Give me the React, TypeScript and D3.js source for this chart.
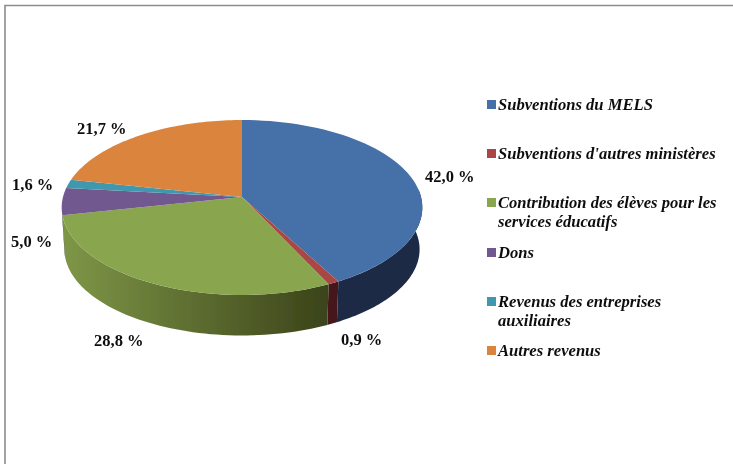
import React from 'react';
import * as d3 from 'd3';

const categories = [
  'Subventions du MELS',
  "Subventions d'autres ministères",
  'Contribution des élèves pour les services éducatifs',
  'Dons',
  'Revenus des entreprises auxiliaires',
  'Autres revenus',
];
const values = [42.0, 0.9, 28.8, 5.0, 1.6, 21.7];
const valueLabels = ['42,0 %', '0,9 %', '28,8 %', '5,0 %', '1,6 %', '21,7 %'];
const legendLines = [
  ['Subventions du MELS'],
  ["Subventions d'autres ministères"],
  ['Contribution des élèves pour les', 'services éducatifs'],
  ['Dons'],
  ['Revenus des entreprises', 'auxiliaires'],
  ['Autres revenus'],
];
const topColors = ['#4470a8', '#aa4644', '#89a54e', '#71588f', '#4198af', '#db843d'];
const wallLeft = ['#1b2e4a', '#4f1c1b', '#7f9747', '#000', '#000', '#000'];
const wallRight = ['#1a2b45', '#45191a', '#3a4219', '#000', '#000', '#000'];

const labelX = [425, 341, 94, 11, 12, 77];
const labelY = [182, 345, 346, 247, 190, 134];
const legendY = [110, 159, 208, 258, 307, 356];

// projected pie: apex is off the ellipse centre because of the perspective
const apexX = 242;
const apexY = 197;
const radX = 179;
const radY = 86.2;
const persp = 0.12;
const depth = 41;

const project = (a: number, bottom = false): [number, number] => {
  const u = Math.sin(a);
  const v = Math.cos(a);
  const k = 1 + persp * v;
  const shrink = bottom ? 0.985 : 1;
  return [
    apexX + (radX * shrink * u) / k,
    apexY - (radY * shrink * v) / k + (bottom ? depth + 1 : 0),
  ];
};

const sample = (a0: number, a1: number) => d3.range(0, 61).map((i) => a0 + ((a1 - a0) * i) / 60);

const wallFrom = (85 * Math.PI) / 180;
const wallTo = (262 * Math.PI) / 180;

export default function App() {
  const arcs = d3.pie<number>().sort(null)(values);
  const line = d3.line();

  const tops = arcs.map((d) => {
    const rim = sample(d.startAngle, d.endAngle).map((a) => project(a));
    return line([[apexX, apexY], ...rim]) + 'Z';
  });

  const walls = arcs.map((d) => {
    const a0 = Math.max(d.startAngle, wallFrom);
    const a1 = Math.min(d.endAngle, wallTo);
    if (a1 <= a0) return null;
    const up = sample(a0, a1).map((a) => project(a));
    const down = sample(a0, a1).map((a) => project(a, true)).reverse();
    return line([...up, ...down]) + 'Z';
  });

  return (
    <svg
      width={733}
      height={464}
      style={{ position: 'absolute', left: 0, top: 0, background: '#fff' }}
    >
      <defs>
        {categories.map((c, i) => (
          <linearGradient key={c} id={`wall${i}`} gradientUnits="userSpaceOnUse" x1={61} x2={422} y1={0} y2={0}>
            <stop offset="0" stopColor={wallLeft[i]} />
            <stop offset="0.75" stopColor={wallRight[i]} />
          </linearGradient>
        ))}
        <filter id="soft" x="-5%" y="-5%" width="110%" height="110%">
          <feGaussianBlur stdDeviation={0.4} />
        </filter>
      </defs>
      <path d="M5,464V5.5H733" fill="none" stroke="#8c8c8c" strokeWidth={1.6} />
      <g filter="url(#soft)">
        {walls.map((d, i) => d && <path key={i} d={d} fill={`url(#wall${i})`} />)}
        {tops.map((d, i) => (
          <path key={i} d={d} fill={topColors[i]} />
        ))}
      </g>
      <g fontFamily="'Liberation Serif'" fontWeight="bold" fontSize={16.5} fill="#111" filter="url(#soft)">
        {valueLabels.map((t, i) => (
          <text key={t} x={labelX[i]} y={labelY[i]}>{t}</text>
        ))}
      </g>
      <g fontFamily="'Liberation Serif'" fontWeight="bold" fontStyle="italic" fontSize={16.6} fill="#111" filter="url(#soft)">
        {legendLines.map((lines, i) => (
          <g key={i}>
            <rect x={487} y={legendY[i] - 10} width={9} height={9} fill={topColors[i]} />
            {lines.map((t, j) => (
              <text key={t} x={498} y={legendY[i] + j * 19}>{t}</text>
            ))}
          </g>
        ))}
      </g>
    </svg>
  );
}
